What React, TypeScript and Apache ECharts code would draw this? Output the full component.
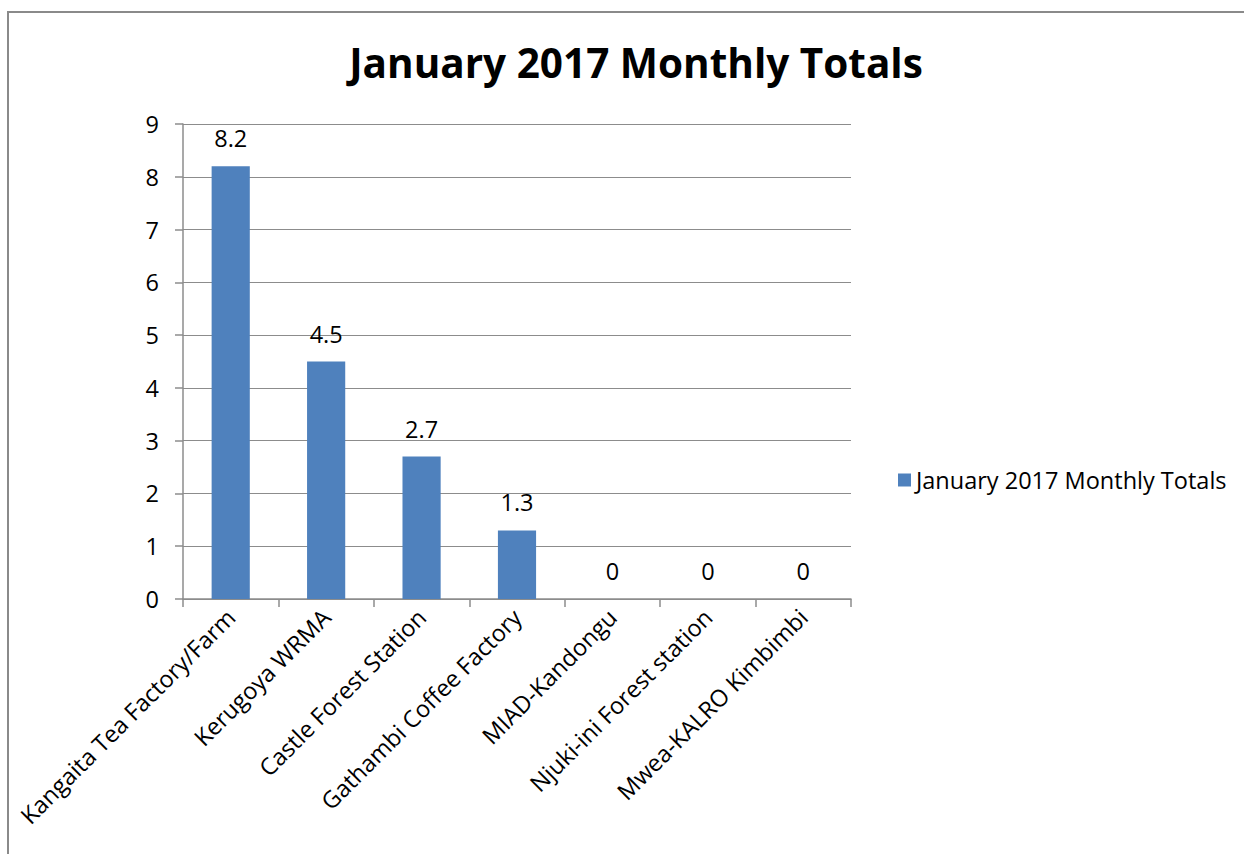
import React, { useEffect, useRef } from "react";
import * as echarts from "echarts";

const categories = [
  "Kangaita Tea Factory/Farm",
  "Kerugoya WRMA",
  "Castle Forest Station",
  "Gathambi Coffee Factory",
  "MIAD-Kandongu",
  "Njuki-ini Forest station",
  "Mwea-KALRO Kimbimbi",
];
const values = [8.2, 4.5, 2.7, 1.3, 0, 0, 0];
const seriesName = "January 2017 Monthly Totals";
const titleText = "January 2017 Monthly Totals";

const FONT = "'Open Sans', 'Noto Sans', sans-serif";
const FS = 23.5;

export default function App() {
  const ref = useRef<HTMLDivElement>(null);
  useEffect(() => {
    if (!ref.current) return;
    const chart = echarts.init(ref.current, undefined, { renderer: "svg" });
    chart.setOption({
      animation: false,
      backgroundColor: "#ffffff",
      textStyle: { fontFamily: FONT },
      title: {
        text: titleText,
        left: 631,
        textAlign: "center",
        top: 37,
        textStyle: { fontSize: 40.5, fontWeight: "bold", color: "#000", fontFamily: FONT },
      },
      legend: {
        left: 893,
        top: 463,
        icon: "rect",
        itemWidth: 13,
        itemHeight: 13,
        itemGap: 8,
        textStyle: { fontSize: FS, color: "#000", fontFamily: FONT },
        data: [seriesName],
      },
      grid: { left: 183, right: 393, top: 124, bottom: 255, containLabel: false },
      xAxis: {
        type: "category",
        data: categories,
        boundaryGap: true,
        axisLine: { lineStyle: { color: "#8c8c8c", width: 1.5 } },
        axisTick: { show: true, length: 8, inside: false, lineStyle: { color: "#8c8c8c", width: 1.5 } },
        axisLabel: { rotate: 45, fontSize: FS, color: "#000", margin: 14, interval: 0, fontFamily: FONT },
      },
      yAxis: {
        type: "value",
        min: 0,
        max: 9,
        interval: 1,
        axisLine: { show: true, lineStyle: { color: "#8c8c8c", width: 1.5 } },
        axisTick: { show: true, length: 8, lineStyle: { color: "#8c8c8c", width: 1.5 } },
        splitLine: { show: true, lineStyle: { color: "#8c8c8c", width: 1 } },
        axisLabel: { fontSize: FS, color: "#000", margin: 24, fontFamily: FONT },
      },
      series: [
        {
          name: seriesName,
          type: "bar",
          data: values,
          barWidth: "40%",
          itemStyle: { color: "#4F81BD" },
          label: { show: true, position: "top", distance: 16, fontSize: FS, color: "#000", fontFamily: FONT },
        },
      ],
      graphic: [
        {
          type: "rect",
          shape: { x: 8, y: 12, width: 1300, height: 900 },
          style: { fill: "none", stroke: "#8a8a8a", lineWidth: 2 },
          silent: true,
        },
      ],
    });
    return () => chart.dispose();
  }, []);
  return (
    <div
      ref={ref}
      style={{ position: "fixed", left: 0, top: 0, width: 1244, height: 854 }}
    />
  );
}
